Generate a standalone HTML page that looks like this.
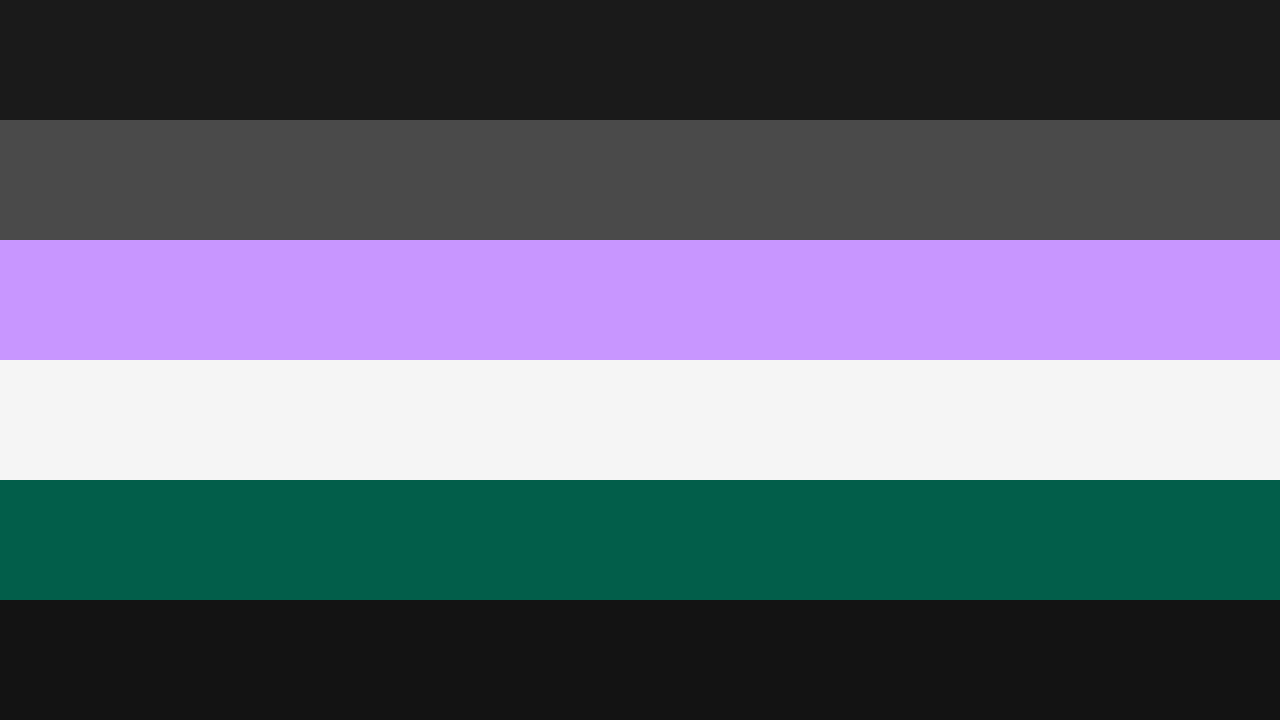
<!DOCTYPE html>
<html>
<head>
<meta charset="utf-8">
<style>
html,body{margin:0;padding:0;width:1280px;height:720px;overflow:hidden;background:#131313;}
.s{width:1280px;height:120px;}
</style>
</head>
<body>
<div class="s" style="background:#1a1a1a"></div>
<div class="s" style="background:#4a4a4a"></div>
<div class="s" style="background:#c896ff"></div>
<div class="s" style="background:#f5f5f5"></div>
<div class="s" style="background:#025e4a"></div>
<div class="s" style="background:#131313"></div>
</body>
</html>
